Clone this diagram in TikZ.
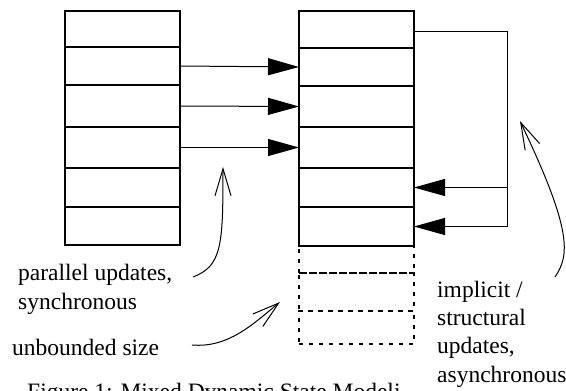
\documentclass[tikz,border=0pt]{standalone}
\usepackage{fontspec}
\setmainfont{Liberation Serif}
\usetikzlibrary{arrows.meta}
\begin{document}
\begin{tikzpicture}[x=1pt,y=-1pt,
  cell/.style={draw,line width=2pt,minimum width=115pt,inner sep=0pt,outer sep=0pt,anchor=north west},
  ghost/.style={cell,dash pattern=on 4pt off 6pt},
  lbl/.style={inner sep=0pt,anchor=base west,font=\fontsize{23.5}{29}\selectfont},
  push/.style={line width=1pt,-{Triangle[length=31pt,width=17pt]}},
  note/.style={line width=1pt,-{Straight Barb[length=27pt,width=16pt,line width=1pt]}}]
\useasboundingbox (0,0) rectangle (566,391);

% left register stack
\node[cell,minimum height=36pt] (L1) at (65,11) {};
\node[cell,minimum height=38pt] (L2) at (65,47) {};
\node[cell,minimum height=42pt] (L3) at (65,85) {};
\node[cell,minimum height=41pt] (L4) at (65,127) {};
\node[cell,minimum height=39pt] (L5) at (65,168) {};
\node[cell,minimum height=38pt] (L6) at (65,207) {};

% right register stack
\node[cell,minimum height=37pt] (R1) at (299,11) {};
\node[cell,minimum height=38pt] (R2) at (299,48) {};
\node[cell,minimum height=41pt] (R3) at (299,86) {};
\node[cell,minimum height=41pt] (R4) at (299,127) {};
\node[cell,minimum height=39pt] (R5) at (299,168) {};
\node[cell,minimum height=39pt] (R6) at (299,207) {};

% open-ended extension of the right stack
\node[ghost,minimum height=27pt] (D1) at (299,246) {};
\node[ghost,minimum height=38pt] (D2) at (299,273) {};
\node[ghost,minimum height=33pt] (D3) at (299,311) {};

% synchronous copies
\draw[push] (L2.east) -- (R2.west);
\draw[push] (L3.east) -- (R3.west);
\draw[push] (L4.east) -- (R4.west);

% structural feedback loop
\coordinate (loop) at (507,0);
\coordinate (top) at ([yshift=-2pt]R1.east);
\draw[push] (top) -- (top -| loop) |- (R6.east);
\draw[push] (R5.east -| loop) -- (R5.east);

% labels
\node[lbl] (p1) at (18,280) {parallel updates,};
\node[lbl] (p2) at (18,309) {synchronous};
\node[lbl] (ub) at (12,355) {unbounded size};
\begin{scope}
  \clip (0,0) rectangle (400,391);
  \node[lbl] (cap) at (27,399) {Figure 1: Mixed Dynamic State Modeling};
\end{scope}
\node[lbl] (s1) at (437,297) {implicit /};
\node[lbl] (s2) at (437,325) {structural};
\node[lbl] (s3) at (437,353) {updates,};
\node[lbl] (s4) at (437,382) {asynchronous};

% annotation pointers
\coordinate (pt) at (223,167);
\coordinate (ut) at (280,302);
\coordinate (st) at (520,121);
\draw[note] (193,277) .. controls (222,266) and (223,245) .. (pt);
\draw[note] (192,345) .. controls (228,348) and (252,325) .. (ut);
\draw[note] (555,277) .. controls (570,255) and (572,230) .. (st);
\end{tikzpicture}
\end{document}
